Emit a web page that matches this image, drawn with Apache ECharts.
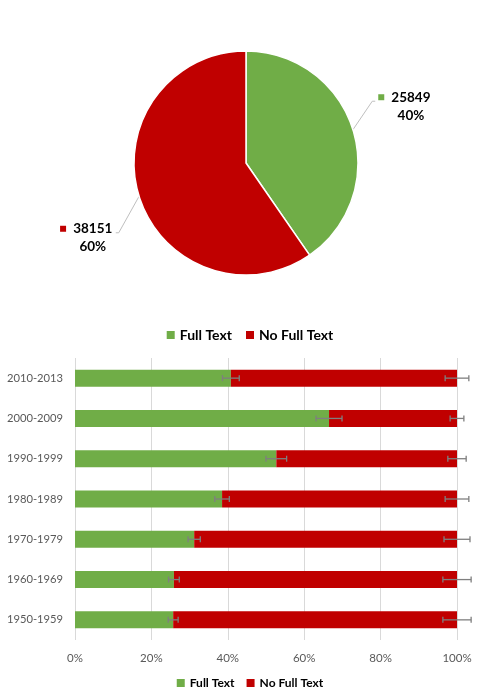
<!DOCTYPE html>
<html>
<head>
<meta charset="utf-8">
<script src="https://cdn.jsdelivr.net/npm/echarts@6/dist/echarts.min.js"></script>
<style>
  html, body { margin: 0; padding: 0; background: #fff; }
  #main { width: 500px; height: 698px; }
</style>
</head>
<body>
<div id="main"></div>
<script>
// data
const seriesNames = ['Full Text', 'No Full Text'];
const seriesColors = ['#70AD47', '#C00000'];
const pieValues = [25849, 38151];

const decades = ['2010-2013', '2000-2009', '1990-1999', '1980-1989', '1970-1979', '1960-1969', '1950-1959'];
const fullTextPct = [40.8, 66.5, 52.7, 38.5, 31.2, 25.9, 25.7];
const noFullTextPct = [59.2, 33.5, 47.3, 61.5, 68.8, 74.1, 74.3];
const fullTextErr = [2.2, 3.4, 2.7, 1.9, 1.6, 1.4, 1.3];
const noFullTextErr = [3.1, 1.8, 2.4, 3.1, 3.4, 3.7, 3.7];
const pctTicks = [0, 20, 40, 60, 80, 100];

const font = 'Lato, "Open Sans", sans-serif';

// error bar drawn at the end of each stacked segment
function errorBar(params, api) {
  const idx = api.value(1);
  const lo = api.coord([api.value(0) - api.value(2), idx]);
  const hi = api.coord([api.value(0) + api.value(2), idx]);
  const cap = 3;
  const style = { stroke: '#7f7f7f', lineWidth: 1.3 };
  return {
    type: 'group',
    children: [
      { type: 'line', shape: { x1: lo[0], y1: lo[1], x2: hi[0], y2: hi[1] }, style: style },
      { type: 'line', shape: { x1: lo[0], y1: lo[1] - cap, x2: lo[0], y2: lo[1] + cap }, style: style },
      { type: 'line', shape: { x1: hi[0], y1: hi[1] - cap, x2: hi[0], y2: hi[1] + cap }, style: style }
    ]
  };
}

const fullErrData = decades.map((d, i) => [fullTextPct[i], i, fullTextErr[i]]);
const noFullErrData = decades.map((d, i) => [fullTextPct[i] + noFullTextPct[i], i, noFullTextErr[i]]);

const richLabel = {
  sq0: { width: 6, height: 6, backgroundColor: seriesColors[0] },
  sq1: { width: 6, height: 6, backgroundColor: seriesColors[1] },
  blank: { width: 6, height: 6 },
  num: { width: 40, align: 'center', fontWeight: 'bold', fontSize: 13.5, color: '#000', fontFamily: font },
  pct: { width: 40, align: 'center', fontWeight: 'bold', fontSize: 13.5, color: '#000', fontFamily: font }
};

// move pie labels like the original and redraw the leader lines to them
function pieLabelLayout(p) {
  const dx = p.dataIndex === 0 ? 1 : -2;
  const dy = p.dataIndex === 0 ? -19 : 37;
  const r = p.labelRect;
  const x = r.x + dx;
  const y = r.y + dy;
  const start = p.labelLinePoints[0];
  const midY = y + r.height / 2 - 5;
  let pts;
  if (p.dataIndex === 0) {
    pts = [start, [x - 6, midY], [x - 3, midY]];
  } else {
    pts = [start, [x + r.width + 6, midY], [x + r.width + 3, midY]];
  }
  return { dx: dx, dy: dy, labelLinePoints: pts };
}

const chart = echarts.init(document.getElementById('main'));

chart.setOption({
  animation: false,
  backgroundColor: '#fff',
  legend: [
    {
      data: seriesNames,
      top: 323,
      left: 'center',
      icon: 'rect',
      itemWidth: 8,
      itemHeight: 8,
      itemGap: 14,
      textStyle: { fontFamily: font, fontWeight: 'bold', fontSize: 14, color: '#000' }
    },
    {
      data: seriesNames,
      top: 672,
      left: 'center',
      icon: 'rect',
      itemWidth: 8,
      itemHeight: 8,
      itemGap: 12,
      textStyle: { fontFamily: font, fontWeight: 'bold', fontSize: 12, color: '#000' }
    }
  ],
  grid: {
    left: 75,
    right: 43,
    top: 358,
    bottom: 58,
    outerBoundsMode: 'none'
  },
  xAxis: {
    type: 'value',
    min: 0,
    max: 100,
    interval: 20,
    axisLine: { show: false },
    axisTick: { show: false },
    splitLine: { show: true, lineStyle: { color: '#d9d9d9', width: 1 } },
    axisLabel: {
      formatter: v => pctTicks.includes(v) ? v + '%' : '',
      color: '#595959',
      fontSize: 11.5,
      fontFamily: font,
      margin: 12
    }
  },
  yAxis: {
    type: 'category',
    data: decades,
    inverse: true,
    axisLine: { show: false },
    axisTick: { show: false },
    axisLabel: { color: '#595959', fontSize: 11.2, fontFamily: font, margin: 12 }
  },
  series: [
    {
      name: 'pie',
      type: 'pie',
      center: [246, 163],
      radius: 112,
      startAngle: 90,
      clockwise: true,
      itemStyle: { borderColor: '#fff', borderWidth: 1.5 },
      data: pieValues.map((v, i) => ({ name: seriesNames[i], value: v, itemStyle: { color: seriesColors[i] } })),
      label: {
        show: true,
        position: 'outside',
        lineHeight: 18,
        formatter: p => '{sq' + p.dataIndex + '|}  {num|' + p.value + '}\n{blank|}  {pct|' + Math.round(p.percent) + '%}',
        rich: richLabel
      },
      labelLine: { show: true, length: 15, length2: 5, lineStyle: { color: '#bfbfbf', width: 1 } },
      labelLayout: pieLabelLayout
    },
    {
      name: seriesNames[0],
      type: 'bar',
      stack: 'total',
      barWidth: 17,
      itemStyle: { color: seriesColors[0] },
      data: fullTextPct
    },
    {
      name: seriesNames[1],
      type: 'bar',
      stack: 'total',
      barWidth: 17,
      itemStyle: { color: seriesColors[1] },
      data: noFullTextPct
    },
    {
      name: 'errFull',
      type: 'custom',
      renderItem: errorBar,
      encode: { x: 0, y: 1 },
      z: 5,
      data: fullErrData
    },
    {
      name: 'errNoFull',
      type: 'custom',
      renderItem: errorBar,
      encode: { x: 0, y: 1 },
      z: 5,
      data: noFullErrData
    }
  ]
});
</script>
</body>
</html>
